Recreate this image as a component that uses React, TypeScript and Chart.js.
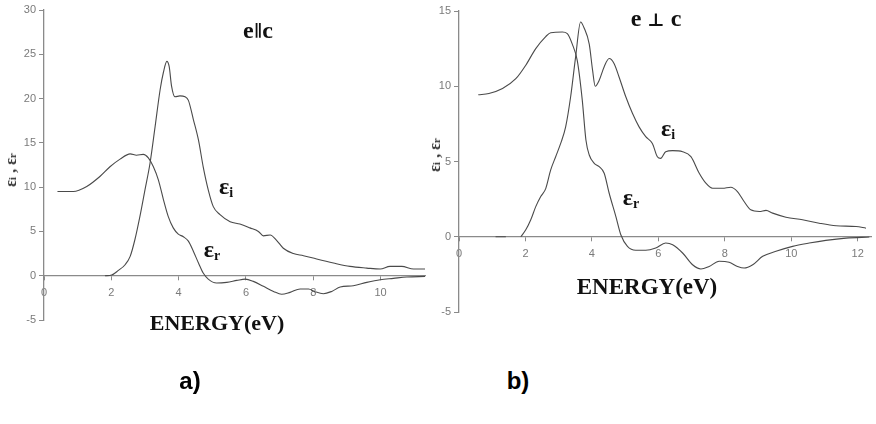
import React, { useEffect, useRef } from "react";
import { Chart, registerables } from "chart.js";

Chart.register(...registerables);

// ---- Panel a) e || c ----
const aRealEnergy = [0.4, 0.87, 1.27, 1.66, 1.96, 2.26, 2.56, 2.75, 2.95, 3.1, 3.25, 3.4, 3.55, 3.69, 3.84, 3.99, 4.14, 4.29, 4.44, 4.59, 4.73, 4.88, 5.13, 5.43, 5.73, 5.98, 6.22, 6.52, 6.82, 7.06, 7.31, 7.61, 7.86, 8.05, 8.3, 8.55, 8.8, 9.19, 9.59, 9.99, 10.38, 10.78, 11.32];
const aRealValues = [9.51, 9.5, 10.07, 11.2, 12.3, 13.16, 13.76, 13.6, 13.7, 13.3, 12.3, 10.8, 8.57, 6.7, 5.4, 4.7, 4.4, 3.9, 2.74, 1.43, 0.3, -0.38, -0.83, -0.75, -0.53, -0.38, -0.64, -1.2, -1.77, -2.1, -1.88, -1.5, -1.5, -1.8, -2.03, -1.77, -1.28, -1.13, -0.75, -0.45, -0.3, -0.15, -0.08];

const aImagEnergy = [1.81, 2.01, 2.21, 2.41, 2.56, 2.7, 2.85, 3.0, 3.15, 3.3, 3.45, 3.55, 3.65, 3.72, 3.79, 3.89, 4.04, 4.19, 4.29, 4.44, 4.59, 4.73, 4.88, 5.03, 5.23, 5.53, 5.82, 6.12, 6.37, 6.52, 6.72, 6.91, 7.11, 7.41, 7.71, 8.1, 8.6, 9.09, 9.59, 9.99, 10.28, 10.63, 10.98, 11.32];
const aImagValues = [0, 0.08, 0.6, 1.24, 2.18, 4.06, 6.7, 9.7, 12.7, 16.8, 21.0, 23.0, 24.2, 23.6, 21.4, 20.2, 20.3, 20.2, 19.8, 17.6, 15.3, 12.3, 9.7, 7.8, 6.9, 6.1, 5.83, 5.4, 5.0, 4.5, 4.6, 4.0, 3.1, 2.5, 2.26, 1.88, 1.43, 1.05, 0.86, 0.75, 1.05, 1.05, 0.75, 0.75];

// ---- Panel b) e ⊥ c ----
const bRealEnergy = [0.58, 0.9, 1.31, 1.71, 2.01, 2.31, 2.61, 2.76, 3.11, 3.26, 3.41, 3.56, 3.71, 3.82, 3.92, 4.07, 4.22, 4.37, 4.52, 4.72, 4.87, 5.07, 5.32, 5.62, 5.92, 6.22, 6.43, 6.73, 7.03, 7.28, 7.53, 7.83, 8.13, 8.38, 8.58, 8.84, 9.14, 9.54, 10.04, 10.54, 11.04, 11.65, 12.35];
const bRealValues = [9.43, 9.52, 9.85, 10.5, 11.4, 12.5, 13.3, 13.56, 13.6, 13.5, 12.8, 11.7, 9.08, 6.43, 5.43, 4.88, 4.66, 4.22, 2.89, 1.35, 0.13, -0.64, -0.9, -0.9, -0.75, -0.42, -0.53, -1.08, -1.86, -2.14, -1.97, -1.63, -1.7, -1.97, -2.08, -1.86, -1.3, -0.97, -0.64, -0.42, -0.24, -0.09, -0.02];

const bImagEnergy = [1.1, 1.41, 1.6, 1.86, 2.01, 2.16, 2.31, 2.46, 2.61, 2.76, 2.91, 3.06, 3.21, 3.36, 3.51, 3.66, 3.76, 3.92, 4.02, 4.1, 4.22, 4.37, 4.52, 4.67, 4.82, 5.02, 5.22, 5.42, 5.62, 5.82, 5.97, 6.07, 6.22, 6.43, 6.73, 6.98, 7.23, 7.43, 7.63, 7.93, 8.18, 8.38, 8.58, 8.78, 9.04, 9.24, 9.44, 9.84, 10.34, 10.84, 11.35, 11.95, 12.25];
const bImagValues = [0, 0, null, 0, 0.46, 1.13, 2.0, 2.67, 3.2, 4.44, 5.32, 6.2, 7.3, 9.3, 11.95, 14.27, 13.9, 12.8, 11.07, 10.0, 10.4, 11.3, 11.84, 11.5, 10.6, 9.3, 8.2, 7.3, 6.65, 6.2, 5.32, 5.21, 5.65, 5.72, 5.65, 5.32, 4.22, 3.56, 3.22, 3.22, 3.29, 3.0, 2.34, 1.79, 1.68, 1.75, 1.57, 1.3, 1.13, 0.9, 0.73, 0.68, 0.57];

const panelCaptions = ["a)", "b)"];
const xAxisTitle = "ENERGY(eV)";

const SERIF = '"Liberation Serif", "Times New Roman", "DejaVu Serif", serif';
const SANS = '"Liberation Sans", Arial, Helvetica, sans-serif';
const LINE = "#4a4a4a";
const AXIS = "#8a8a8a";

function toPoints(xs: number[], ys: (number | null)[]) {
  return xs.map((x, i) => ({ x, y: ys[i] }));
}

type PanelProps = {
  left: number;
  width: number;
  height: number;
  realE: number[];
  realV: (number | null)[];
  imagE: number[];
  imagV: (number | null)[];
  xMax: number;
  yMin: number;
  yMax: number;
  yAxisWidth: number;
  pad: { left: number; right: number; top: number; bottom: number };
};

function Panel(p: PanelProps) {
  const ref = useRef<HTMLCanvasElement | null>(null);
  useEffect(() => {
    if (!ref.current) return;
    const ds = (xs: number[], ys: (number | null)[]) => ({
      data: toPoints(xs, ys),
      borderColor: LINE,
      borderWidth: 1.1,
      pointRadius: 0,
      fill: false,
      cubicInterpolationMode: "monotone" as const,
      spanGaps: false,
      clip: false as const,
    });
    const chart = new Chart(ref.current, {
      type: "line",
      data: { datasets: [ds(p.realE, p.realV), ds(p.imagE, p.imagV)] },
      options: {
        animation: false,
        responsive: false,
        maintainAspectRatio: false,
        layout: { padding: p.pad },
        plugins: { legend: { display: false }, tooltip: { enabled: false } },
        scales: {
          x: {
            type: "linear",
            position: { y: 0 } as any,
            min: 0,
            max: p.xMax,
            afterFit: (s: any) => {
              s.height = 0;
            },
            ticks: {
              stepSize: 2,
              includeBounds: false,
              color: "#7a7a7a",
              font: { family: SANS, size: 11 },
              padding: 7,
              maxRotation: 0,
            },
            grid: { drawOnChartArea: false, drawTicks: true, tickLength: 4, color: AXIS },
            border: { color: AXIS, width: 1.3 },
          },
          y: {
            type: "linear",
            position: "left",
            min: p.yMin,
            max: p.yMax,
            afterFit: (s: any) => {
              s.width = p.yAxisWidth;
            },
            ticks: {
              stepSize: 5,
              includeBounds: false,
              color: "#7a7a7a",
              font: { family: SANS, size: 11 },
              padding: 3,
            },
            grid: { drawOnChartArea: false, drawTicks: true, tickLength: 5, color: AXIS },
            border: { color: AXIS, width: 1.3 },
          },
        },
      },
    });
    return () => chart.destroy();
  }, []);
  return (
    <canvas
      ref={ref}
      width={p.width}
      height={p.height}
      style={{ position: "absolute", left: p.left, top: 0, width: p.width, height: p.height }}
    />
  );
}

function Txt(props: { x: number; y: number; children: React.ReactNode; style?: React.CSSProperties }) {
  return (
    <div
      style={{
        position: "absolute",
        left: props.x,
        top: props.y,
        transform: "translate(-50%, -50%)",
        whiteSpace: "nowrap",
        lineHeight: 1,
        ...props.style,
      }}
    >
      {props.children}
    </div>
  );
}

const epsStyle: React.CSSProperties = { fontFamily: SERIF, fontWeight: 700, fontSize: 24, color: "#111" };
const subStyle: React.CSSProperties = { fontSize: 14, verticalAlign: "-0.25em" };

function Eps(props: { sub: string }) {
  return (
    <span>
      ε<span style={subStyle}>{props.sub}</span>
    </span>
  );
}

function YTitle(props: { x: number; y: number }) {
  return (
    <Txt
      x={props.x}
      y={props.y}
      style={{ transform: "translate(-50%, -50%) rotate(-90deg)", fontFamily: SERIF, fontWeight: 700, fontSize: 16, color: "#333" }}
    >
      ε<span style={{ fontSize: 11 }}>i</span> , ε<span style={{ fontSize: 11 }}>r</span>
    </Txt>
  );
}

export default function App() {
  return (
    <div style={{ position: "fixed", left: 0, top: 0, width: 876, height: 424, background: "#fff", overflow: "hidden" }}>
      <Panel
        left={0}
        width={440}
        height={340}
        realE={aRealEnergy}
        realV={aRealValues}
        imagE={aImagEnergy}
        imagV={aImagValues}
        xMax={11.32}
        yMin={-5}
        yMax={30}
        yAxisWidth={44}
        pad={{ left: 0, right: 15, top: 10, bottom: 20 }}
      />
      <Panel
        left={436}
        width={440}
        height={340}
        realE={bRealEnergy}
        realV={bRealValues}
        imagE={bImagEnergy}
        imagV={bImagValues}
        xMax={12.4}
        yMin={-5}
        yMax={15}
        yAxisWidth={23}
        pad={{ left: 0, right: 5, top: 11, bottom: 28 }}
      />
      <Txt x={258} y={30} style={{ fontFamily: SERIF, fontWeight: 700, fontSize: 24, color: "#111" }}>
        e<span style={{ fontSize: 16, verticalAlign: "0.1em" }}>{"\u2225"}</span>c
      </Txt>
      <Txt x={656} y={18} style={{ fontFamily: SERIF, fontWeight: 700, fontSize: 24, color: "#111" }}>
        e <span style={{ fontSize: 18 }}>{"\u22a5"}</span> c
      </Txt>
      <Txt x={226} y={187} style={epsStyle}><Eps sub="i" /></Txt>
      <Txt x={212} y={250} style={epsStyle}><Eps sub="r" /></Txt>
      <Txt x={668} y={129} style={epsStyle}><Eps sub="i" /></Txt>
      <Txt x={631} y={198} style={epsStyle}><Eps sub="r" /></Txt>
      <Txt x={217} y={323} style={{ fontFamily: SERIF, fontWeight: 700, fontSize: 22, color: "#111" }}>{xAxisTitle}</Txt>
      <Txt x={647} y={286} style={{ fontFamily: SERIF, fontWeight: 700, fontSize: 23, color: "#111" }}>{xAxisTitle}</Txt>
      <YTitle x={11} y={170} />
      <YTitle x={435} y={155} />
      <Txt x={190} y={381} style={{ fontFamily: SANS, fontWeight: 700, fontSize: 24, color: "#000" }}>{panelCaptions[0]}</Txt>
      <Txt x={518} y={381} style={{ fontFamily: SANS, fontWeight: 700, fontSize: 24, color: "#000" }}>{panelCaptions[1]}</Txt>
    </div>
  );
}
